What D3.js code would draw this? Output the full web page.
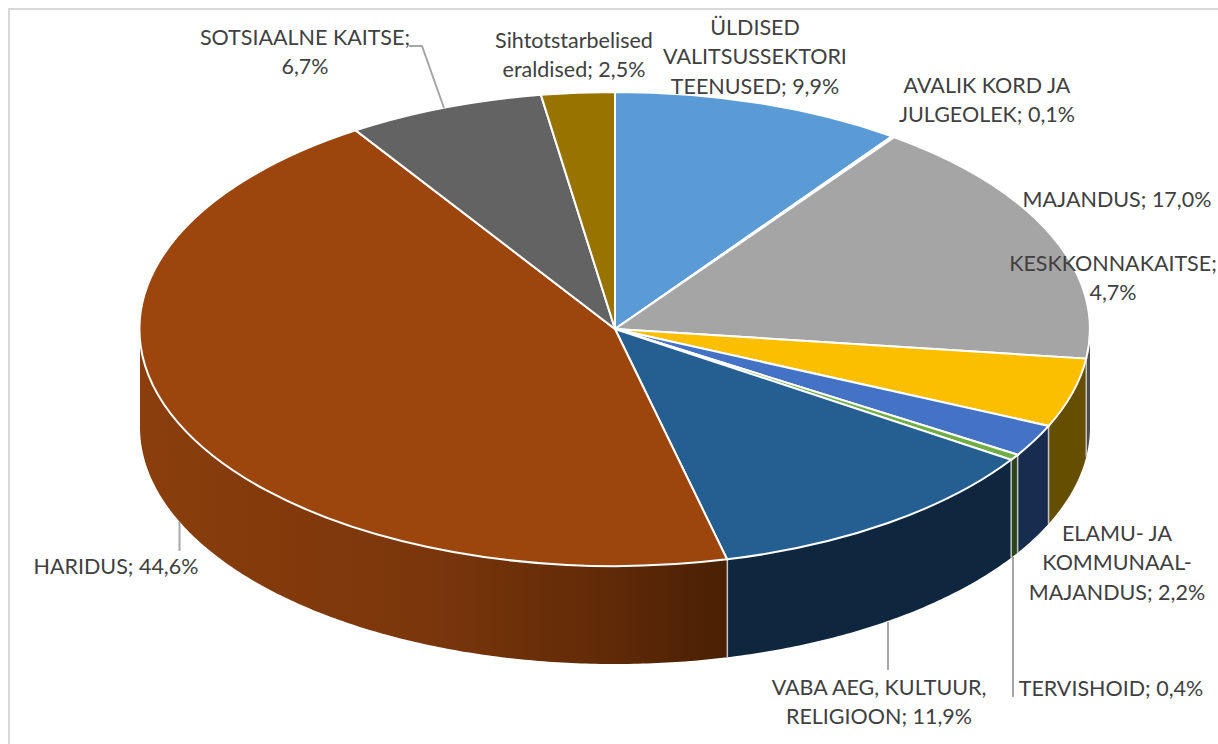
<!DOCTYPE html>
<html lang="et">

<head>
    <meta charset="utf-8">
    <title>Pie 3D</title>
    <script src="https://cdn.jsdelivr.net/npm/d3@7"></script>
    <style>
        html, body {
            margin: 0;
            background: #fff;
        }

        svg {
            display: block;
        }

        .label {
            font-family: Lato, "Open Sans", sans-serif;
            font-size: 21.5px;
            fill: #404040;
            text-anchor: middle;
        }

        .leader {
            fill: none;
            stroke: #a6a6a6;
            stroke-width: 2px;
        }
    </style>
</head>

<body>
    <div id="chart"></div>
    <script type="text/javascript">
        var categories = ['ÜLDISED VALITSUSSEKTORI TEENUSED', 'AVALIK KORD JA JULGEOLEK', 'MAJANDUS',
            'KESKKONNAKAITSE', 'ELAMU- JA KOMMUNAALMAJANDUS', 'TERVISHOID', 'VABA AEG, KULTUUR, RELIGIOON',
            'HARIDUS', 'SOTSIAALNE KAITSE', 'Sihtotstarbelised eraldised'];
        var shares = [9.9, 0.1, 17.0, 4.7, 2.2, 0.4, 11.9, 44.6, 6.7, 2.5];

        // %v is swapped for the formatted share
        var labelLines = [
            ['ÜLDISED', 'VALITSUSSEKTORI', 'TEENUSED; %v'],
            ['AVALIK KORD JA', 'JULGEOLEK; %v'],
            ['MAJANDUS; %v'],
            ['KESKKONNAKAITSE;', '%v'],
            ['ELAMU- JA', 'KOMMUNAAL-', 'MAJANDUS; %v'],
            ['TERVISHOID; %v'],
            ['VABA AEG, KULTUUR,', 'RELIGIOON; %v'],
            ['HARIDUS; %v'],
            ['SOTSIAALNE KAITSE;', '%v'],
            ['Sihtotstarbelised', 'eraldised; %v']
        ];

        var topColors = ['#5b9bd5', '#ed7d31', '#a5a5a5', '#fcbf00', '#4472c4', '#70ad47', '#255e91', '#9c460d', '#636363', '#997300'];
        var sideColors = ['#37607f', '#8e4b1d', '#4d4d4d', '#664e00', '#182c50', '#2b451d', '#0f263f', 'url(#haridusSide)', '#3b3b3b', '#5c4500'];

        // label anchors: centre x and middle y of the first line
        var labelX = [755, 987, 1117, 1113, 1117, 1111, 879, 116, 305, 574];
        var labelY = [27, 85, 199, 263, 533, 688, 687, 566, 37, 40];
        var lineGap = 29.5;

        var leaders = [
            [[409, 46], [422, 46], [444, 108]],
            [[888, 622], [888, 670]],
            [[1013, 557], [1013, 697]],
            [[179.5, 522], [179.5, 551]]
        ];

        var svgWidth = 1218;
        var svgHeight = 744;
        var cx = 615;
        var cy = 329;
        var rx = 475;
        var ry = 237;
        var depth = 98;

        var svg = d3.select('#chart')
            .append('svg')
            .attr('width', svgWidth)
            .attr('height', svgHeight);

        var grad = svg.append('defs').append('linearGradient')
            .attr('id', 'haridusSide')
            .attr('gradientUnits', 'userSpaceOnUse')
            .attr('x1', cx - rx).attr('x2', 726)
            .attr('y1', 0).attr('y2', 0);
        grad.selectAll('stop')
            .data([['0', '#8a3e0c'], ['0.5', '#7a360b'], ['0.8', '#602a07'], ['1', '#4a2004']])
            .enter()
            .append('stop')
            .attr('offset', (d) => { return d[0]; })
            .attr('stop-color', (d) => { return d[1]; });

        // chart frame, only top and left show in the crop
        svg.append('path')
            .attr('d', `M9,${svgHeight}V9H${svgWidth}`)
            .attr('fill', 'none')
            .attr('stroke', '#d9d9d9')
            .attr('stroke-width', 2);

        var xScale = d3.scaleLinear().domain([-1, 1]).range([cx - rx, cx + rx]);
        var yScale = d3.scaleLinear().domain([-1, 1]).range([cy - ry, cy + ry]);

        var pie = d3.pie().sort(null).value((d) => { return d; });
        var slices = pie(shares);

        function rimX(a) { return xScale(Math.sin(a)); }
        function rimY(a) { return yScale(-Math.cos(a)); }

        var line = d3.line()
            .x((d) => { return d[0]; })
            .y((d) => { return d[1]; });

        // wall of a slice: only the part of the rim facing the viewer
        function wallPath(s) {
            var a0 = Math.max(s.startAngle, Math.PI / 2);
            var a1 = Math.min(s.endAngle, Math.PI * 3 / 2);
            if (a0 >= a1) { return null; }
            var n = Math.max(2, Math.ceil((a1 - a0) / 0.01));
            var angles = d3.range(n + 1).map((i) => { return a0 + (a1 - a0) * i / n; });
            var upper = angles.map((a) => { return [rimX(a), rimY(a)]; });
            var lower = angles.slice().reverse().map((a) => { return [rimX(a), rimY(a) + depth]; });
            return line(upper.concat(lower)) + 'Z';
        }

        svg.append('g').selectAll('path')
            .data(slices)
            .enter()
            .append('path')
            .attr('d', wallPath)
            .attr('fill', (d, i) => { return sideColors[i]; });

        // pale seams where walls meet
        svg.append('g').selectAll('line')
            .data(slices.filter((s) => { return s.endAngle > Math.PI / 2 && s.endAngle < Math.PI * 3 / 2; }))
            .enter()
            .append('line')
            .attr('x1', (d) => { return rimX(d.endAngle); })
            .attr('x2', (d) => { return rimX(d.endAngle); })
            .attr('y1', (d) => { return rimY(d.endAngle); })
            .attr('y2', (d) => { return rimY(d.endAngle) + depth; })
            .attr('stroke', '#c4c4c4')
            .attr('stroke-width', 1.5);

        var arc = d3.arc().innerRadius(0).outerRadius(1);

        svg.append('g')
            .attr('transform', `translate(${cx},${cy}) scale(${rx},${ry})`)
            .selectAll('path')
            .data(slices)
            .enter()
            .append('path')
            .attr('d', arc)
            .attr('fill', (d, i) => { return topColors[i]; })
            .attr('stroke', '#fff')
            .attr('stroke-width', 2)
            .attr('vector-effect', 'non-scaling-stroke');

        svg.append('g').selectAll('path')
            .data(leaders)
            .enter()
            .append('path')
            .attr('class', 'leader')
            .attr('d', line);

        var pct = (v) => { return d3.format('.1f')(v).replace('.', ',') + '%'; };

        var labels = svg.append('g').selectAll('text')
            .data(labelLines)
            .enter()
            .append('text')
            .attr('class', 'label');

        labels.selectAll('tspan')
            .data((lines, i) => {
                return lines.map((t, j) => {
                    return { text: t.replace('%v', pct(shares[i])), x: labelX[i], y: labelY[i] + j * lineGap };
                });
            })
            .enter()
            .append('tspan')
            .attr('x', (d) => { return d.x; })
            .attr('y', (d) => { return d.y; })
            .attr('dy', '0.35em')
            .text((d) => { return d.text; });
    </script>
</body>

</html>
